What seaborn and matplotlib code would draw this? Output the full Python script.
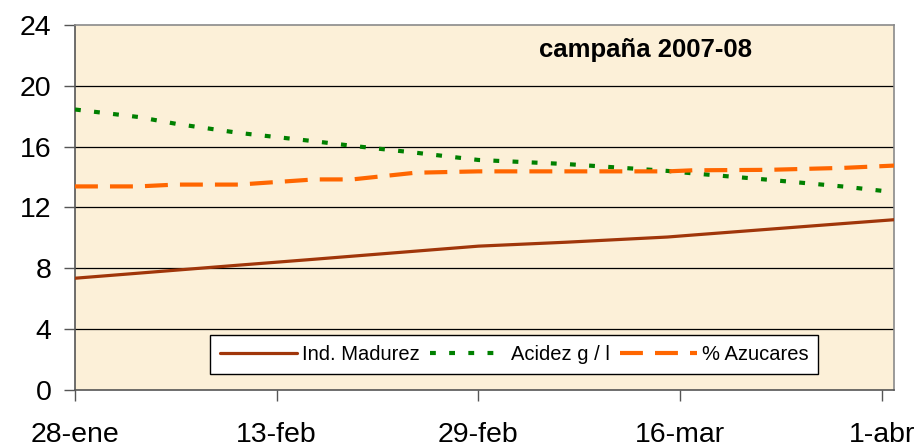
import pandas as pd
import numpy as np
import seaborn as sns
import matplotlib.pyplot as plt

# sampling dates of the 2007-08 campaign
fechas = ["2008-01-28", "2008-02-02", "2008-02-05", "2008-02-10", "2008-02-16",
          "2008-02-19", "2008-02-24", "2008-02-29", "2008-03-07", "2008-03-15",
          "2008-03-17", "2008-03-23", "2008-03-29", "2008-04-02"]

# values
madurez = [7.34, 7.67, 7.87, 8.2, 8.59, 8.79, 9.12, 9.45, 9.71, 10.05, 10.18, 10.56, 10.94, 11.19]
acidez = [18.44, 17.95, 17.5, 16.9, 16.35, 16.05, 15.6, 15.12, 14.85, 14.4, 14.24, 13.82, 13.37, 13.0]
azucares = [13.38, 13.38, 13.5, 13.5, 13.84, 13.84, 14.28, 14.37, 14.37, 14.37, 14.44, 14.47, 14.6, 14.75]

series = ["Ind. Madurez", "Acidez g / l", "% Azucares"]
tick_fechas = ["2008-01-28", "2008-02-13", "2008-02-29", "2008-03-16", "2008-04-01"]
tick_labels = ["28-ene", "13-feb", "29-feb", "16-mar", "1-abr"]
titulo = "campaña 2007-08"

data = pd.DataFrame({"fecha": pd.to_datetime(fechas),
                     series[0]: madurez, series[1]: acidez, series[2]: azucares})

sns.set_style("white")
plt.rcParams['font.family'] = ['Liberation Sans', 'DejaVu Sans']
plt.rcParams['text.color'] = 'black'
plt.rcParams['xtick.color'] = 'black'
plt.rcParams['ytick.color'] = 'black'

fig = plt.figure(figsize=(9.2, 4.46), dpi=100)
ax = fig.add_axes([0.0815, 0.126, 0.8905, 0.818])
ax.set_facecolor("#FCF0D8")

estilos = {
    series[0]: dict(color="#A0360A", lw=2.3, ls="-"),
    series[1]: dict(color="#008000", lw=3, ls=(0, (1.4, 3.2))),
    series[2]: dict(color="#FF6600", lw=3, ls=(0, (5.5, 2.9))),
}
for s in series:
    st = estilos[s]
    sns.lineplot(data=data, x="fecha", y=s, ax=ax, color=st["color"],
                 linewidth=st["lw"], linestyle=st["ls"], label=s, zorder=3)

ax.set_xlim(pd.Timestamp("2008-01-28"), pd.Timestamp("2008-04-02"))
ax.set_ylim(0, 24)
ax.set_yticks(np.arange(0, 25, 4))
ax.set_xticks(pd.to_datetime(tick_fechas))
ax.set_xticklabels(tick_labels)
ax.set_xlabel("")
ax.set_ylabel("")

# horizontal grid lines
for v in np.arange(4, 24, 4):
    ax.axhline(v, color="black", lw=0.9, zorder=1)

for side in ["top", "right"]:
    ax.spines[side].set_color("#8a8a8a")
    ax.spines[side].set_linewidth(1.2)
for side in ["left", "bottom"]:
    ax.spines[side].set_color("#555555")
    ax.spines[side].set_linewidth(1.2)

ax.tick_params(axis="y", direction="out", length=8, width=1, color="#555555",
               labelsize=20.5, pad=9, left=True, labelcolor="black")
ax.tick_params(axis="x", direction="out", length=8, width=1, color="#555555",
               labelsize=20.5, pad=15, bottom=True, labelcolor="black")

ax.text(0.696, 0.931, titulo, transform=ax.transAxes, ha="center", va="center",
        fontsize=18.5, fontweight="bold", color="black")

leg = ax.legend(loc="lower left", bbox_to_anchor=(0.165, 0.044), borderaxespad=0,
                ncol=3, fontsize=14.5, frameon=True, fancybox=False, framealpha=1,
                edgecolor="black", handlelength=3.8, handletextpad=0.25,
                columnspacing=0.5, borderpad=0.5)
leg.get_frame().set_linewidth(1)
for t in leg.get_texts():
    t.set_color("black")

fig.savefig("out.png", dpi=100, facecolor="white")
